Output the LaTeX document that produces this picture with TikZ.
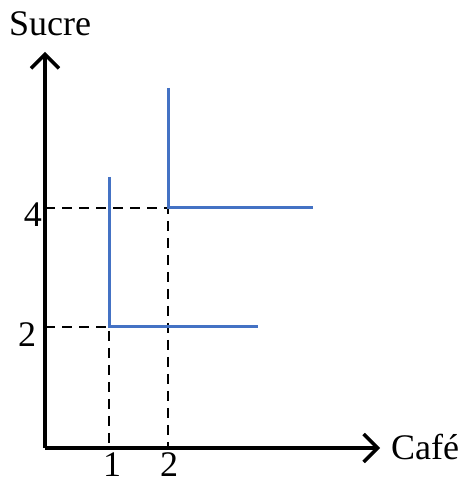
\documentclass[tikz,border=0pt]{standalone}
\usepackage{fontspec}
\setmainfont{Liberation Serif}
\usetikzlibrary{arrows.meta}
\definecolor{curveblue}{RGB}{68,114,196}
\begin{document}
\begin{tikzpicture}[x=1pt,y=1pt,>={Straight Barb[length=14pt,width=28pt,line width=3.5pt]},
  every node/.style={font=\fontsize{36}{42}\selectfont,inner sep=0pt},
  axis/.style={line width=3.5pt,->},
  guide/.style={line width=2.5pt,dash pattern=on 10pt off 7pt},
  curve/.style={curveblue,line width=3pt}]
\useasboundingbox (-45,-37) rectangle (420,448);
\coordinate (O) at (0,0);
\coordinate (ytop) at (0,396);
\coordinate (xend) at (335,0);
\coordinate (A) at (64,121);
\coordinate (B) at (123,240);
\coordinate (Atop) at (64,271);
\coordinate (Aright) at (213,121);
\coordinate (Btop) at (123,360);
\coordinate (Bright) at (268,240);
\node[anchor=base] (sucre) at (5,412) {Sucre};
\node[anchor=base west] (cafe) at (346,-12) {Café};
\node[anchor=base] (ytick4) at (-12,221) {4};
\node[anchor=base] (ytick2) at (-18,101) {2};
\node[anchor=base] (xtick1) at (67,-28) {1};
\node[anchor=base] (xtick2) at (124,-28) {2};
\draw[guide] (O|-B)--(B)--(B|-O);
\draw[guide] (O|-A)--(A)--(A|-O);
\draw[curve] (Atop)--(A)--(Aright);
\draw[curve] (Btop)--(B)--(Bright);
\draw[axis] (O)--(ytop);
\draw[axis] (O)--(xend);
\end{tikzpicture}
\end{document}
